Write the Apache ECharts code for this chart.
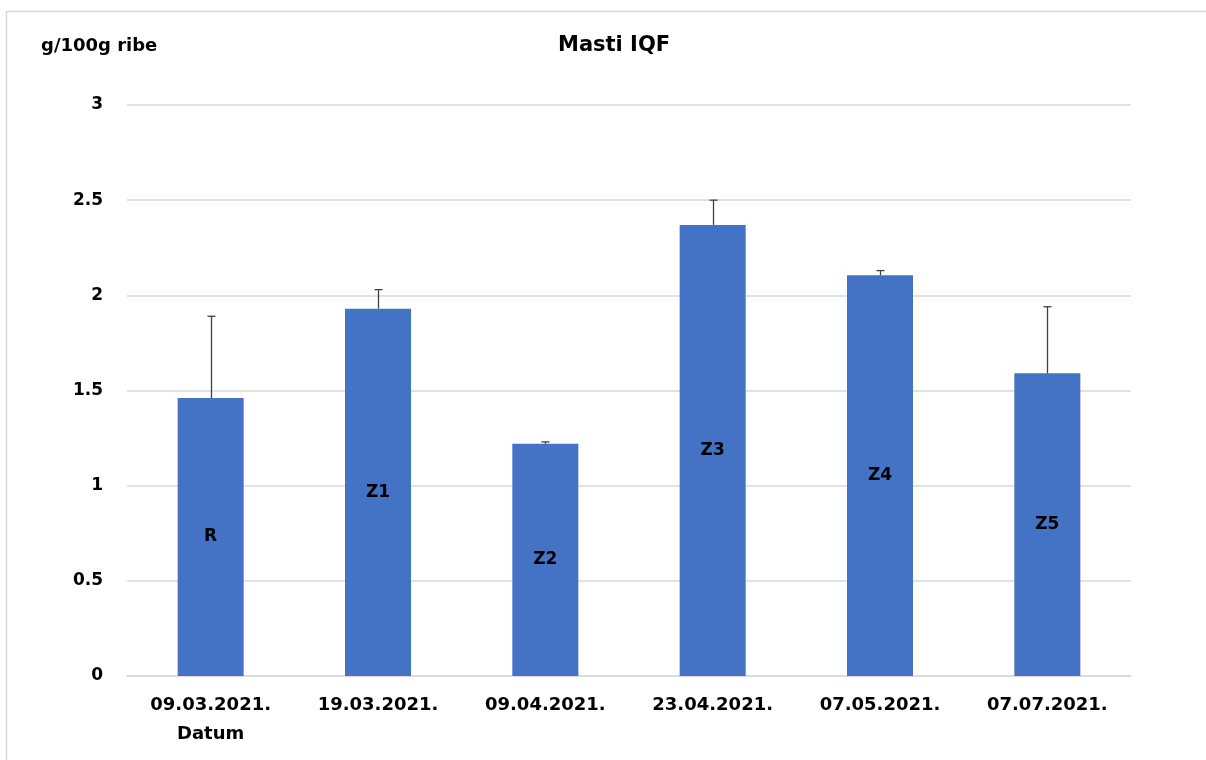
<!DOCTYPE html>
<html>
<head>
<meta charset="utf-8">
<script src="https://cdn.jsdelivr.net/npm/echarts@6/dist/echarts.min.js"></script>
<style>
  html, body { margin: 0; padding: 0; background: #fff; }
  #chart { width: 1206px; height: 760px; }
</style>
</head>
<body>
<div id="chart"></div>
<script>
// dates on the x axis, sample names inside bars
var dates = ['09.03.2021.', '19.03.2021.', '09.04.2021.', '23.04.2021.', '07.05.2021.', '07.07.2021.'];
var samples = ['R', 'Z1', 'Z2', 'Z3', 'Z4', 'Z5'];
// fat content, g/100g fish
var values = [1.46, 1.93, 1.22, 2.37, 2.105, 1.59];
// upper error (standard deviation)
var errors = [0.43, 0.10, 0.01, 0.13, 0.025, 0.35];
var yTicks = [0, 0.5, 1, 1.5, 2, 2.5, 3];

var font = 'DejaVu Sans';
var myChart = echarts.init(document.getElementById('chart'));

var barData = values.map(function (v, i) {
    return { value: v, name: samples[i] };
});
var errData = values.map(function (v, i) {
    return [i, v, v + errors[i]];
});

myChart.setOption({
    animation: false,
    title: {
        text: 'Masti IQF',
        left: 553,
        top: 30,
        textStyle: { fontFamily: font, fontWeight: 'bold', fontSize: 21, color: '#000' }
    },
    graphic: [
        {
            type: 'rect',
            shape: { x: 6.5, y: 11.5, width: 1220, height: 800 },
            style: { fill: 'none', stroke: '#d9d9d9', lineWidth: 1.5 },
            silent: true
        },
        {
            type: 'text',
            left: 41,
            top: 37,
            style: { text: 'g/100g ribe', font: 'bold 18px "DejaVu Sans"', fill: '#000' }
        },
        {
            type: 'text',
            left: 177,
            top: 725,
            style: { text: 'Datum', font: 'bold 18px "DejaVu Sans"', fill: '#000' }
        }
    ],
    grid: { left: 127, right: 75, top: 105, bottom: 84 },
    xAxis: {
        type: 'category',
        data: dates,
        axisLine: { lineStyle: { color: '#d9d9d9', width: 1.5 } },
        axisTick: { show: false },
        axisLabel: {
            margin: 20,
            interval: 0,
            fontFamily: font,
            fontWeight: 'bold',
            fontSize: 18,
            color: '#000'
        }
    },
    yAxis: {
        type: 'value',
        min: yTicks[0],
        max: yTicks[yTicks.length - 1],
        interval: 0.5,
        axisLine: { show: false },
        axisTick: { show: false },
        splitLine: { lineStyle: { color: '#d9d9d9', width: 1.5 } },
        axisLabel: {
            margin: 24,
            fontFamily: font,
            fontWeight: 'bold',
            fontSize: 17,
            color: '#000',
            padding: [3, 0, 0, 0]
        }
    },
    series: [
        {
            type: 'bar',
            data: barData,
            barWidth: 66,
            itemStyle: { color: '#4472C4' },
            label: {
                show: true,
                position: 'inside',
                formatter: '{b}',
                fontFamily: font,
                fontWeight: 'bold',
                fontSize: 17,
                color: '#000'
            }
        },
        {
            type: 'custom',
            data: errData,
            z: 10,
            renderItem: function (params, api) {
                var low = api.coord([api.value(0), api.value(1)]);
                var high = api.coord([api.value(0), api.value(2)]);
                var x = Math.round(low[0]) + 0.5;
                var style = { stroke: '#404040', lineWidth: 1.3 };
                return {
                    type: 'group',
                    children: [
                        { type: 'line', shape: { x1: x, y1: low[1], x2: x, y2: high[1] }, style: style },
                        { type: 'line', shape: { x1: x - 4, y1: high[1], x2: x + 4, y2: high[1] }, style: style }
                    ]
                };
            }
        }
    ]
});
</script>
</body>
</html>
